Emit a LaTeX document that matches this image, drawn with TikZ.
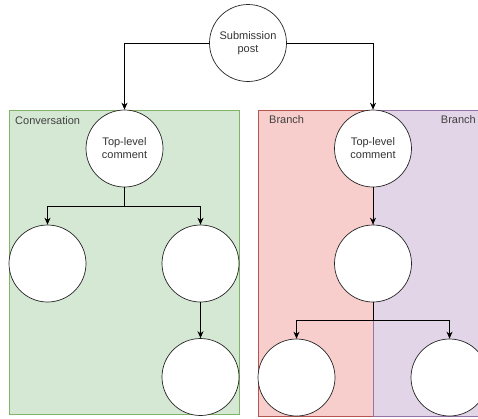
\documentclass[tikz,border=0pt]{standalone}
\usepackage{fontspec}
\setmainfont{Liberation Sans}
\usetikzlibrary{arrows.meta}

\definecolor{convfill}{HTML}{D5E8D4}
\definecolor{convline}{HTML}{82B366}
\definecolor{redfill}{HTML}{F8CECC}
\definecolor{redline}{HTML}{B85450}
\definecolor{purpfill}{HTML}{E1D5E7}
\definecolor{purpline}{HTML}{9673A6}

\tikzset{
	post/.style={circle, draw=black!85, line width=0.7pt, fill=white, minimum size=77pt, inner sep=0pt, align=center, font=\fontsize{11}{13}\selectfont, text=black!80},
	link/.style={draw=black, line width=0.8pt, -{Stealth[length=7pt, width=6pt]}},
	tag/.style={font=\fontsize{11}{13}\selectfont, text=black!75, inner sep=0pt},
}

\begin{document}
\begin{tikzpicture}[x=1pt, y=-1pt]
	\useasboundingbox (0,0) rectangle (478,418);
	% groups
	\filldraw[fill=convfill, draw=convline] (9,110) rectangle (239,414);
	\filldraw[fill=redfill, draw=redline] (258,110) rectangle (373,416);
	\filldraw[fill=purpfill, draw=purpline] (373,110) rectangle (479,416);
	\node[tag, anchor=west] (conv) at (15,121) {Conversation};
	\node[tag, anchor=west] (br1) at (269,120) {Branch};
	\node[tag, anchor=east] (br2) at (476,120) {Branch};
	% posts
	\node[post] (sub) at (248,43) {Submission\\post};
	\node[post] (tl1) at (124.5,148.5) {Top-level\\comment};
	\node[post] (a1) at (47.5,263.5) {};
	\node[post] (a2) at (200.5,263.5) {};
	\node[post] (a3) at (200.5,377) {};
	\node[post] (tl2) at (373,148.5) {Top-level\\comment};
	\node[post] (b1) at (373,263.5) {};
	\node[post] (b2) at (296.5,377.5) {};
	\node[post] (b3) at (449.5,377.5) {};
	\coordinate (s1) at (124.5,206);
	\coordinate (s2) at (373,320);
	% connectors
	\draw[link] (sub.west) -| (tl1.north);
	\draw[link] (sub.east) -| (tl2.north);
	\draw[line width=0.8pt] (tl1.south) -- (s1);
	\draw[link] (s1) -| (a1.north);
	\draw[link] (s1) -| (a2.north);
	\draw[link] (a2.south) -- (a3.north);
	\draw[link] (tl2.south) -- (b1.north);
	\draw[line width=0.8pt] (b1.south) -- (s2);
	\draw[link] (s2) -| (b2.north);
	\draw[link] (s2) -| (b3.north);
\end{tikzpicture}
\end{document}
